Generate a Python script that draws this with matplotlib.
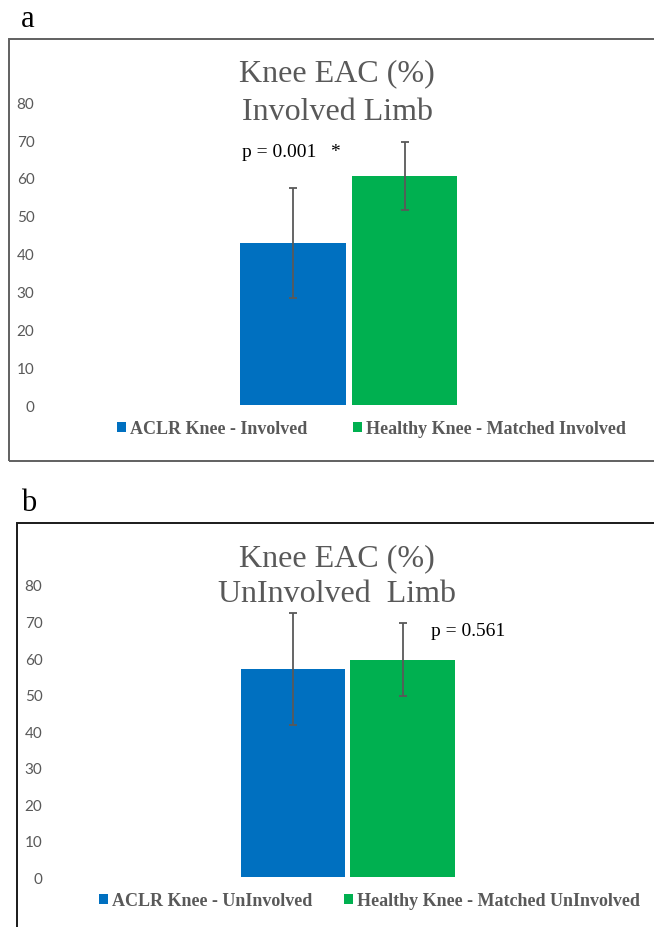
import matplotlib
matplotlib.use("Agg")
import matplotlib.pyplot as plt
from matplotlib.patches import Patch, Rectangle

# ---- data ----
groups_a = ["ACLR Knee - Involved", "Healthy Knee - Matched Involved"]
means_a = [42.8, 60.5]
errs_a = [14.5, 8.9]
pval_a = "p = 0.001   *"

groups_b = ["ACLR Knee - UnInvolved", "Healthy Knee - Matched UnInvolved"]
means_b = [57.0, 59.5]
errs_b = [15.4, 10.0]
pval_b = "p = 0.561"

yticks = [0, 10, 20, 30, 40, 50, 60, 70, 80]
colors = ["#0070C0", "#00B050"]
GRAY = "#595959"

W, H = 654, 928
fig = plt.figure(figsize=(W / 100, H / 100), dpi=100)
SERIF = ["Liberation Serif", "DejaVu Serif"]


def fx(px):
    return px / W


def fy(py):
    return 1 - py / H


def panel(left_px, y0_px, y80_px, c0_px, step_px, means, errs, groups,
          ptxt, ppos, title2, title_y, leg_left, leg_y, colspace,
          label, label_xy, box, box_color):
    ax = fig.add_axes([fx(left_px), fy(y0_px), fx(W - left_px),
                       (y0_px - y80_px) / H])
    xs = list(range(len(means)))
    ax.bar(xs, means, width=0.95, color=colors, zorder=2)
    ax.errorbar(xs, means, yerr=errs, fmt="none", ecolor=GRAY,
                elinewidth=1.3, capsize=3, capthick=1.3, zorder=3)
    ax.set_ylim(0, 80)
    ax.set_xlim((left_px - c0_px) / step_px, (W - c0_px) / step_px)
    ax.set_yticks(yticks)
    ax.set_yticklabels([str(t) for t in yticks], fontfamily="Lato",
                       fontsize=11, color=GRAY)
    ax.tick_params(axis="y", length=0, pad=4)
    ax.set_xticks([])
    for s in ax.spines.values():
        s.set_visible(False)
    ax.patch.set_alpha(0)
    ax.text(ppos[0], ppos[1], ptxt, fontsize=14, family=SERIF,
            color="black", va="center", ha="left")
    # titles
    tx = 337
    fig.text(fx(tx), fy(title_y[0]), "Knee EAC (%)", family=SERIF,
             fontsize=23, color=GRAY, ha="center", va="center")
    fig.text(fx(tx), fy(title_y[1]), title2, family=SERIF,
             fontsize=23, color=GRAY, ha="center", va="center")
    # legend
    handles = [Patch(facecolor=c, edgecolor="none") for c in colors]
    fig.legend(handles, groups, loc="center left",
               bbox_to_anchor=(fx(leg_left), fy(leg_y)),
               bbox_transform=fig.transFigure, ncol=2, frameon=False,
               borderpad=0, borderaxespad=0, handlelength=0.5,
               handleheight=0.5, handletextpad=0.2,
               columnspacing=colspace,
               prop={"family": SERIF, "weight": "bold", "size": 13},
               labelcolor=GRAY)
    # panel label
    fig.text(fx(label_xy[0]), fy(label_xy[1]), label, family=SERIF,
             fontsize=22, color="black", ha="center", va="baseline")
    # border
    x0, y0b, x1, y1b = box
    fig.add_artist(Rectangle((fx(x0), fy(y1b)), fx(x1 - x0), (y1b - y0b) / H,
                             transform=fig.transFigure, fill=False,
                             edgecolor=box_color, linewidth=1.4))
    return ax


panel(40, 406, 103.3, 293, 111.5, means_a, errs_a, groups_a,
      pval_a, (-0.457, 67.1), "Involved Limb", (74, 112), 117, 430, 2.55,
      "a", (28, 27), (9, 40, 700, 461.5), "#606060")

panel(48, 878.3, 586, 293, 109.5, means_b, errs_b, groups_b,
      pval_b, (1.26, 67.6), "UnInvolved  Limb", (559, 595), 99, 902, 1.8,
      "b", (29, 511), (17, 524, 700, 1000), "#1a1a1a")

fig.savefig("out.png", dpi=100)
